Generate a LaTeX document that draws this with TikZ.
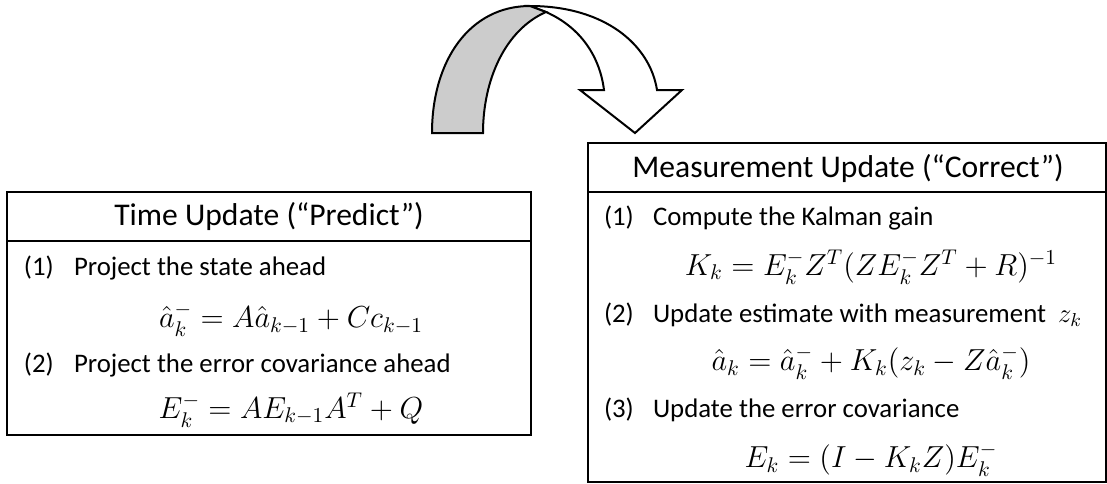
\RequirePackage{fix-cm}
\documentclass[tikz,border=0pt]{standalone}
\usepackage[no-math]{fontspec}
\setmainfont{Carlito}
\usepackage{amsmath}
\usetikzlibrary{positioning}

\begin{document}
\begin{tikzpicture}[
  x=0.5pt,y=-0.5pt,line width=1pt,
  frame/.style={draw=black,line width=1pt},
  head/.style={font=\fontsize{15.8}{19}\selectfont,inner sep=0pt},
  num/.style={anchor=west,font=\fontsize{13.4}{16}\selectfont,inner sep=0pt},
  item/.style={anchor=west,font=\fontsize{13.4}{16}\selectfont,inner sep=0pt},
  eqn/.style={font=\fontsize{15.2}{18}\selectfont,inner sep=0pt}
]
\useasboundingbox (0,0) rectangle (1107,483);

% loop arrow
\draw[fill=white,line join=miter]
  (530,6) .. controls (605,6) and (650,45) .. (657,90) -- (682,90)
  -- (635,133) -- (580,90) -- (604,90)
  .. controls (600,58) and (582,28) .. (546,12) -- cycle;
\draw[fill=black!20]
  (432,133) .. controls (432,60) and (470,6) .. (530,6) -- (546,12)
  .. controls (505,30) and (483,80) .. (483,133) -- cycle;

% time update
\draw[frame] (7,192) rectangle (531,435);
\draw[frame] (7,241) -- (531,241);
\node[head] (thead) at (269,216) {Time Update (“Predict”)};
\node[num] (t1) at (23,268) {(1)};
\node[item] (t1txt) at (73,268) {Project the state ahead};
\node[eqn] (teq1) at (291,320) {${\hat{a}}_k^- = A{\hat{a}}_{k-1} + Cc_{k-1}$};
\node[num] (t2) at (23,365) {(2)};
\node[item] (t2txt) at (73,365) {Project the error covariance ahead};
\node[eqn] (teq2) at (291,410) {$E_k^- = AE_{k-1}A^T + Q$};

% measurement update
\draw[frame] (588,143) rectangle (1106,482);
\draw[frame] (588,192) -- (1106,192);
\node[head] (mhead) at (848,168) {Measurement Update (“Correct”)};
\node[num] (m1) at (603,218) {(1)};
\node[item] (m1txt) at (652,218) {Compute the Kalman gain};
\node[eqn] (meq1) at (871,267) {$K_k = E_k^- Z^T(ZE_k^- Z^T + R)^{-1}$};
\node[num] (m2) at (603,315) {(2)};
\node[item] (m2txt) at (652,315) {Update estimate with measurement\ \ $z_k$};
\node[eqn] (meq2) at (871,363) {${\hat{a}}_k = {\hat{a}}_k^- + K_k(z_k - Z{\hat{a}}_k^-)$};
\node[num] (m3) at (603,410) {(3)};
\node[item] (m3txt) at (652,410) {Update the error covariance};
\node[eqn] (meq3) at (871,460) {$E_k = (I - K_kZ)E_k^-$};
\end{tikzpicture}
\end{document}
